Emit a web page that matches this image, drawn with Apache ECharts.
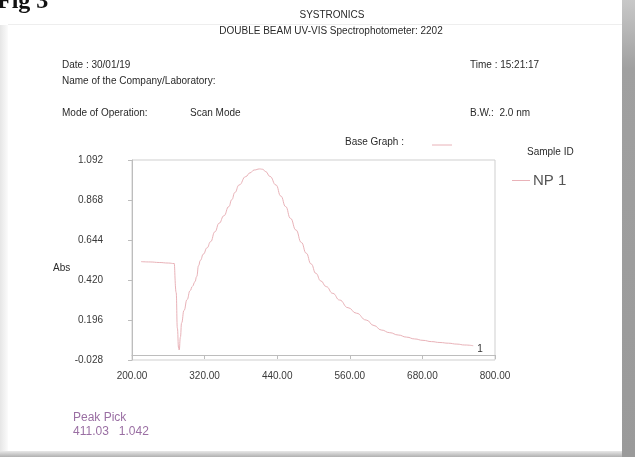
<!DOCTYPE html>
<html>
<head>
<meta charset="utf-8">
<script src="https://cdn.jsdelivr.net/npm/echarts@6/dist/echarts.min.js"></script>
<style>
html,body{margin:0;padding:0;background:#fff;}
#c{width:635px;height:457px;}
</style>
</head>
<body>
<div id="c"></div>
<script>
// Wavelength (nm)
const wavelengths = [215,230,245,260,270,271,273,275,277,278,280,282,286,291,296,300,304,307,310,313,318,324,330,337,344,352,360,365,370,377,388,395,402,411,416,421,428,438,446,454,462,471,480,488,496,504,512,521,532,543,557,571,587,600,612,626,640,654,667,681,695,709,723,737,750,764];
// Absorbance
const absorbance = [0.523,0.521,0.518,0.515,0.512,0.510,0.350,0.150,0.040,0.028,0.100,0.180,0.250,0.310,0.360,0.385,0.410,0.440,0.500,0.530,0.565,0.600,0.635,0.690,0.738,0.780,0.831,0.870,0.910,0.952,0.999,1.020,1.036,1.042,1.040,1.027,1.000,0.952,0.890,0.831,0.765,0.700,0.630,0.570,0.510,0.457,0.415,0.383,0.345,0.308,0.265,0.234,0.196,0.165,0.140,0.125,0.112,0.100,0.090,0.082,0.075,0.070,0.066,0.061,0.056,0.052];
const yTicks = [-0.028,0.196,0.420,0.644,0.868,1.092];
const xTicks = [200,320,440,560,680,800];
const seriesName = 'NP 1';

const chart = echarts.init(document.getElementById('c'), null, {renderer:'canvas'});
const curveColor = '#e9b2b8';
const font = '"Liberation Sans", Arial, sans-serif';
const txt = (x, y, s, opts) => Object.assign({
  type:'text', x:x, y:y, silent:true,
  style:Object.assign({text:s, fill:'#2a2a2a', font:'10px ' + font, textVerticalAlign:'middle'}, opts||{})
});

const option = {
  backgroundColor:'#fff',
  animation:false,
  grid:{left:132, top:160, right:140, bottom:97, show:true, borderColor:'#cfcfcf', borderWidth:1},
  xAxis:{
    type:'value', min:xTicks[0], max:xTicks[xTicks.length-1], interval:120,
    axisLine:{show:true, lineStyle:{color:'#bdbdbd'}},
    axisTick:{show:true, length:4, lineStyle:{color:'#bdbdbd'}},
    splitLine:{show:false},
    axisLabel:{color:'#3a3a3a', fontFamily:font, fontSize:10, margin:11, formatter:v=>v.toFixed(2)}
  },
  yAxis:{
    type:'value', min:yTicks[0], max:yTicks[yTicks.length-1],
    axisLine:{show:true, lineStyle:{color:'#bdbdbd'}},
    axisTick:{show:true, length:4, lineStyle:{color:'#bdbdbd'}, customValues:yTicks},
    splitLine:{show:false},
    axisLabel:{color:'#3a3a3a', fontFamily:font, fontSize:10, margin:29, customValues:yTicks, formatter:v=>v.toFixed(3)}
  },
  legend:{
    left:507, top:168, icon:'rect', itemWidth:18, itemHeight:1, itemGap:4,
    textStyle:{color:'#555', fontFamily:font, fontSize:15, padding:[0,0,0,-2]},
    data:[seriesName]
  },
  series:[{
    name:seriesName, type:'line', symbol:'none', smooth:0.5, smoothMonotone:'x',
    data:wavelengths.map((w,i)=>[w, absorbance[i]]),
    lineStyle:{color:curveColor, width:1},
    itemStyle:{color:curveColor},
    endLabel:{show:true, formatter:'1', color:'#333', fontFamily:font, fontSize:10, distance:4, offset:[0,4]}
  }],
  graphic:[
    {type:'rect', shape:{x:622, y:0, width:13, height:457}, silent:true, z:-10,
      style:{fill:new echarts.graphic.LinearGradient(0,0,0,1,[{offset:0,color:'#c8c8c8'},{offset:0.15,color:'#a0a0a0'},{offset:1,color:'#9a9a9a'}])}},
    {type:'rect', shape:{x:0, y:451, width:622, height:6}, silent:true, z:-10,
      style:{fill:new echarts.graphic.LinearGradient(0,0,0,1,[{offset:0,color:'#e8e8e8'},{offset:1,color:'#b0b0b0'}])}},
    {type:'rect', shape:{x:0, y:25, width:8, height:426}, silent:true, z:-10,
      style:{fill:new echarts.graphic.LinearGradient(0,0,1,0,[{offset:0,color:'#e6e6e6'},{offset:1,color:'#fbfbfb'}])}},
    {type:'rect', shape:{x:8, y:24, width:614, height:1}, silent:true, z:-10, style:{fill:'#eeeeee'}},
    {type:'text', x:-3, y:-10, silent:true,
      style:{text:'Fig 3', fill:'#111', font:'bold 24px "Liberation Serif", "DejaVu Serif", serif'}},
    txt(332, 15, 'SYSTRONICS', {textAlign:'center'}),
    txt(331, 31, 'DOUBLE BEAM UV-VIS Spectrophotometer: 2202', {textAlign:'center'}),
    txt(62, 65, 'Date : 30/01/19'),
    txt(62, 81, 'Name of the Company/Laboratory:'),
    txt(470, 65, 'Time : 15:21:17'),
    txt(62, 113, 'Mode of Operation:'),
    txt(190, 113, 'Scan Mode'),
    txt(470, 113, 'B.W.:  2.0 nm'),
    txt(345, 142, 'Base Graph :'),
    {type:'line', silent:true, shape:{x1:432, y1:145, x2:452, y2:145}, style:{stroke:curveColor, lineWidth:1}},
    txt(527, 152, 'Sample ID'),
    txt(53, 268, 'Abs'),
    txt(73, 418, 'Peak Pick', {fill:'#9a6fa3', font:'12px ' + font}),
    txt(73, 432, '411.03   1.042', {fill:'#9a6fa3', font:'12px ' + font})
  ]
};
chart.setOption(option);
</script>
</body>
</html>
